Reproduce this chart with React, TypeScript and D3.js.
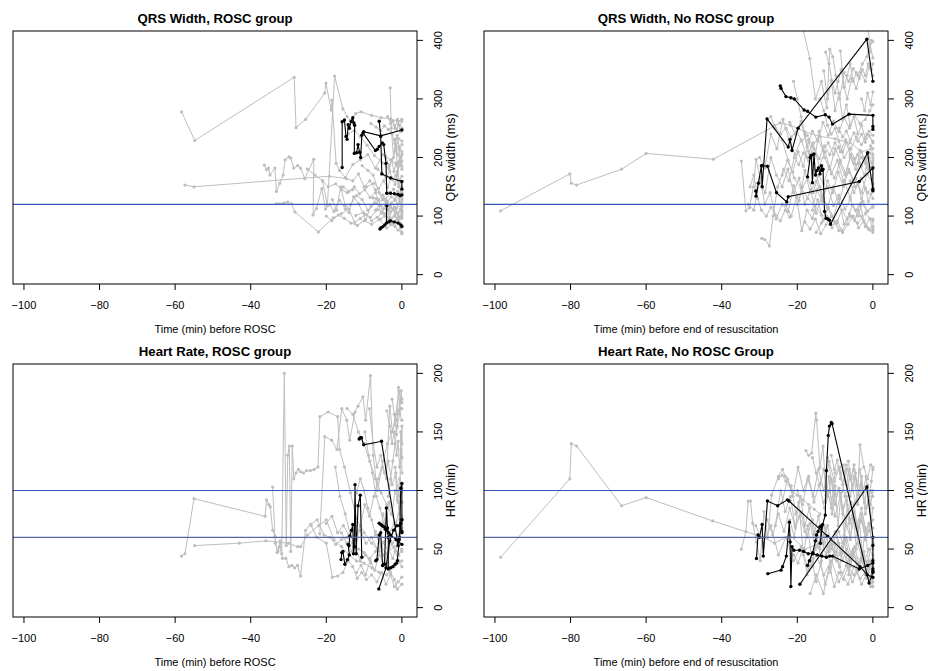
import React from "react";
import * as d3 from "d3";

type Pt = [number, number];

// ---------- axis / text data ----------
const xTicks = [-100, -80, -60, -40, -20, 0];
const qrsTicks = [0, 100, 200, 300, 400];
const hrTicks = [0, 50, 100, 150, 200];
const qrsRefLines = [120];
const hrRefLines = [100, 60];
const titles = [
  "QRS Width, ROSC group",
  "QRS Width, No ROSC group",
  "Heart Rate, ROSC group",
  "Heart Rate, No ROSC Group",
];
const xLabels = [
  "Time (min) before ROSC",
  "Time (min) before end of resuscitation",
  "Time (min) before ROSC",
  "Time (min) before end of resuscitation",
];
const yLabels = ["QRS width (ms)", "HR (/min)"];

// ---------- QRS width, ROSC group ----------
const qrsRoscGray: Pt[][] = [
  [[-58.3,278],[-54.8,229],[-28.5,337],[-28,251],[-25.5,265],[-20.4,310],[-20.1,327],[-18.7,281],[-18.5,298],[-17.4,190],[-16.5,178],[-15,166],[-13,188],[-11,196],[-9,205],[-7,182],[-5,205],[-3,196],[-1.5,188],[0,205]],
  [[-57.4,153],[-55,150],[-19.2,168],[-14.7,164],[-13,160],[-11.5,172],[-10,150],[-8.5,160],[-7,145],[-5,130],[-3,115],[-1.5,105],[0,110]],
  [[-36.4,187],[-35.8,179],[-35.3,182],[-34.9,170],[-33.6,182],[-33.2,142],[-32.3,156],[-31.4,170],[-30.9,196],[-29.9,201],[-29.4,199],[-28.6,182],[-27.6,186],[-26.8,182],[-25.7,164],[-23.3,197],[-23.5,102],[-22.6,113],[-21.2,147],[-20.2,112],[-19,120],[-18,108],[-16.5,127],[-15,112],[-13.5,120],[-12,135],[-10.5,128],[-9,110],[-7,122],[-5,128],[-3,118],[-1.5,135],[0,120]],
  [[-33.2,121],[-32.3,121],[-31.2,122],[-30.2,124],[-29.2,121],[-28.3,107],[-22.1,73],[-18.2,97],[-16,104],[-14,112],[-12.5,89],[-11,96],[-9.5,103],[-8,92],[-6.5,98],[-5,106],[-3.5,95],[-2,100],[-1,92],[0,96]],
  [[-21,160],[-19.7,118],[-17.8,339],[-15.6,283],[-14.5,270],[-13.5,262],[-12.2,275],[-10.8,278],[-8,272],[-5.5,268],[-3,266],[-1,262],[0,265]],
  [[-18.4,128],[-17.3,110],[-16.2,150],[-15,118],[-14,106],[-12.8,133],[-11.4,121],[-9.6,94],[-8.2,116],[-6.8,130],[-5.4,105],[-4.2,124],[-3,86],[-1.6,112],[-0.6,98],[0,104]],
  [[-3.1,319],[-2.8,250],[-2.2,200],[-1.6,232],[-1.1,172],[-0.6,192],[0,180]],
  [[-8.2,258],[-6.8,252],[-5.6,246],[-4.6,254],[-3.6,248],[-2.6,240],[-1.8,224],[-1.2,238],[-0.6,214],[0,222]],
  [[-9.4,150],[-7.4,156],[-6.2,147],[-4.8,160],[-3.8,149],[-2.8,166],[-1.8,154],[-1.2,176],[-0.6,160],[0,168]],
  [[-7.6,131],[-6.2,128],[-5,136],[-3.8,125],[-2.8,133],[-1.8,127],[-1.1,142],[-0.5,121],[0,126]],
  [[-12.2,101],[-10.2,106],[-8.3,98],[-6.4,111],[-4.6,104],[-3.4,97],[-2.3,112],[-1.3,94],[-0.4,80],[0,70]],
  [[-4.3,202],[-3.4,186],[-2.7,196],[-2.1,176],[-1.5,191],[-1,184],[-0.5,201],[0,194]],
  [[-14.2,240],[-12.6,246],[-11,236],[-9.2,221],[-7.2,203],[-5.2,191],[-3.4,181],[-1.8,211],[-0.8,232],[0,228]],
  [[-6.4,180],[-5.2,172],[-4.2,165],[-3.2,176],[-2.4,162],[-1.6,170],[-0.9,150],[-0.3,158],[0,148]],
  [[-10.5,186],[-9,178],[-7.6,170],[-6,140],[-4.4,128],[-3.2,140],[-2.2,146],[-1.2,120],[-0.4,132],[0,140]],
  [[-5.6,95],[-4.6,100],[-3.6,112],[-2.6,90],[-1.8,82],[-1,100],[-0.4,88],[0,84]],
  [[-2.6,262],[-2,255],[-1.4,248],[-0.9,256],[-0.4,244],[0,250]],
  [[-15.5,150],[-14,142],[-12.6,150],[-11.2,138],[-9.8,145],[-8.4,132],[-7,140],[-5.6,118],[-4.2,112],[-2.8,122],[-1.4,114],[0,118]],
  [[-20,100],[-18.5,92],[-16.8,102],[-15.2,96],[-13.5,88],[-11.8,84],[-10,92],[-8,86],[-6,94],[-4,80],[-2.5,86],[-1,76],[0,72]],
  [[-3.8,270],[-3,258],[-2.4,262],[-1.8,250],[-1.2,265],[-0.6,255],[0,262]],
  [[-2,230],[-1.6,215],[-1.2,205],[-0.8,218],[-0.4,190],[0,210],[0,185]],
  [[-1.4,170],[-1,160],[-0.6,150],[-0.3,140],[0,130],[0,115],[0,100]],
  [[-7,110],[-6,118],[-5,112],[-4,116],[-3,108],[-2,115],[-1,105],[-0.4,112],[0,108]],
  [[-25,180],[-23,170],[-21,160],[-19.5,150],[-17.5,155],[-16,145],[-14.5,140],[-13,145]],
];
const qrsRoscBlack: Pt[][] = [
  [[-15.8,183],[-15.8,261],[-15.2,264],[-14.8,236],[-14.5,231],[-14.2,256],[-13.9,250],[-13.4,262],[-13.0,268],[-12.7,259],[-12.5,255],[-12.6,207],[-12.0,208],[-11.6,222],[-11.2,209],[-10.9,200],[-10.6,238],[-10.1,244],[-5.6,237],[0,247]],
  [[-10.3,242],[-7,212],[-6.5,214],[-6,219],[-5.2,225],[-4.8,222],[-4.2,190],[-4,139],[-3,139],[-2,138],[-1,137],[-0.5,135],[0,136]],
  [[-6,262],[-5.6,236],[-5.3,172],[-3,165],[0,159],[0,146]],
  [[-4,118],[-4.1,88],[-5.8,78],[-5.5,80],[-5,82],[-4.5,85],[-3.5,90],[-3,92],[-2,90],[-1,88],[-0.3,85],[0,82]],
];

// ---------- QRS width, No ROSC group ----------
const qrsNoGray: Pt[][] = [
  [[-98.5,109],[-80.2,172],[-79.8,156],[-78.4,153],[-66.5,180],[-60,207],[-42.2,197],[-24.6,259],[-21.8,255],[-18,244],[-14,236],[-10,232],[-6,225],[-3,210],[0,215]],
  [[-34.8,194],[-33.6,109],[-32.7,114],[-31.6,150],[-30.9,197],[-29.8,165],[-28.6,120],[-27.2,140],[-25.6,95],[-24,120],[-22.4,108],[-21,152],[-19.5,126],[-18,178],[-16.6,140],[-15,160],[-13.4,132],[-12,150],[-10.4,118],[-9,136],[-7.4,112],[-6,128],[-4.6,110],[-3,124],[-1.6,108],[0,118]],
  [[-29.4,62],[-28.6,60],[-27.4,49],[-26.4,100],[-25.2,150],[-23.6,180],[-22.2,160],[-20.8,200],[-19.6,188],[-18.4,208],[-17,194],[-15.6,215],[-14.2,198],[-12.8,220],[-11.4,205],[-10,225],[-8.6,210],[-7.2,230],[-5.8,215],[-4.4,235],[-3,222],[-1.6,240],[0,228]],
  [[-19.2,440],[-16.7,369],[-15.2,300],[-13.6,330],[-12.2,285],[-11.4,385],[-10.6,372],[-9.8,340],[-8.8,300],[-7.6,345],[-6.4,330],[-5.2,352],[-4,340],[-2.8,360],[-1.6,372],[-0.8,395],[0,370]],
  [[-22,260],[-20.6,240],[-19,262],[-17.4,218],[-16,245],[-14.6,228],[-13.2,260],[-11.8,238],[-10.4,262],[-9,244],[-7.6,268],[-6.2,250],[-4.8,272],[-3.4,258],[-2,265],[-0.8,280],[0,290]],
  [[-23,118],[-21.6,100],[-20.2,132],[-18.8,75],[-17.4,110],[-16,96],[-14.6,128],[-13.2,92],[-11.8,115],[-10.4,98],[-9,130],[-7.6,86],[-6.2,104],[-4.8,92],[-3.4,120],[-2,82],[-0.8,96],[0,76]],
  [[-24,170],[-22.6,195],[-21.2,175],[-19.8,210],[-18.4,185],[-17,230],[-15.6,190],[-14.2,245],[-12.8,200],[-11.4,180],[-10,215],[-8.6,195],[-7.2,172],[-5.8,205],[-4.4,188],[-3,200],[-1.6,182],[0,195]],
  [[-16,110],[-14.8,145],[-13.4,125],[-12,160],[-10.6,140],[-9.2,175],[-7.8,150],[-6.4,180],[-5,160],[-3.6,190],[-2.2,170],[-1,200],[0,185]],
  [[-8.6,382],[-7.6,320],[-6.8,300],[-5.6,335],[-4.4,318],[-3.2,345],[-2,330],[-1,355],[0,340]],
  [[-26,255],[-24,230],[-22.4,195],[-20.8,165],[-19,148],[-17.2,130],[-15.4,118],[-13.6,102],[-11.8,96],[-10,88],[-8.2,75],[-6,100],[-4,88],[-2,104],[0,92]],
  [[-20,120],[-18.6,150],[-17.2,165],[-15.8,140],[-14.4,170],[-13,155],[-11.6,185],[-10.2,165],[-8.8,190],[-7.4,170],[-6,200],[-4.6,180],[-3.2,210],[-1.8,190],[-0.6,220],[0,205]],
  [[-13,348],[-12,300],[-11,332],[-10,280],[-9,310],[-8,265],[-7,290],[-6,255],[-5,270],[-4,240],[-3,255],[-2,232],[-1,245],[0,238]],
  [[-30,200],[-28.6,182],[-27,240],[-25.4,215],[-23.8,265],[-22.2,230],[-20.6,205],[-19,230],[-17.4,200],[-15.8,225],[-14.2,185],[-12.6,210],[-11,172],[-9.4,195],[-7.8,160],[-6.2,175],[-4.6,150],[-3,165],[-1.4,140],[0,150]],
  [[-6,160],[-5,140],[-4,155],[-3,130],[-2,148],[-1.2,125],[-0.5,138],[0,130]],
  [[-3,300],[-2.2,280],[-1.4,310],[-0.6,290],[0,312]],
  [[-15,72],[-13.6,88],[-12.2,100],[-10.8,80],[-9.4,92],[-8,72],[-6.6,86],[-5.2,100],[-3.8,80],[-2.4,92],[-1.2,78],[0,82]],
  [[-33,120],[-31.5,110],[-30,160],[-28.5,140],[-27,200],[-25.5,170],[-24,150],[-22.5,180],[-21,140],[-19.5,165],[-18,120],[-16.5,145],[-15,105],[-13.5,135],[-12,112],[-10.5,150],[-9,122],[-7.5,158],[-6,132],[-4.5,165],[-3,140],[-1.5,172],[0,155]],
  [[-27,270],[-25.8,250],[-24.4,240],[-23,250],[-21.6,235],[-20.2,245],[-18.8,228],[-17.4,238],[-16,220],[-14.6,232],[-13.2,212],[-11.8,225],[-10.4,205],[-9,218],[-7.6,200],[-6.2,215],[-4.8,198],[-3.4,212],[-2,195],[-0.8,208],[0,200]],
  [[-21,330],[-20,300],[-19,270],[-18,240],[-17,210],[-16,190],[-15,170],[-14,150],[-13,130],[-12,115],[-11,100],[-10,88],[-9,75]],
  [[-12.5,380],[-11.6,360],[-10.8,330],[-10,310],[-9.2,330],[-8.4,350],[-7.6,320],[-6.8,340],[-6,360],[-5.2,330],[-4.4,345],[-3.6,335],[-2.8,350],[-2,340],[-1.2,360],[-0.4,350],[0,360]],
  [[-1.2,420],[-0.8,380],[-0.4,400],[0,398]],
  [[-9,250],[-8,235],[-7,245],[-6,230],[-5,242],[-4,228],[-3,240],[-2,226],[-1,238],[0,225]],
  [[-18,90],[-16.6,78],[-15.2,95],[-13.8,70],[-12.4,85],[-11,100],[-9.6,88],[-8.2,110],[-6.8,95],[-5.4,118],[-4,100],[-2.6,125],[-1.4,108],[0,115]],
  [[-4,110],[-3.2,100],[-2.4,90],[-1.6,82],[-0.8,76],[0,72],[0,80],[0,95]],
  [[-14,300],[-13,280],[-12,255],[-11,240],[-10,250],[-9,228],[-8,210],[-7,225],[-6,205],[-5,190],[-4,205],[-3,185],[-2,200],[-1,178],[0,190]],
  [[-32.5,150],[-31.5,170],[-30.5,130],[-29.5,110],[-28.2,100],[-27,115],[-25.8,102],[-24.5,92],[-23.2,110],[-22,98]],
];
const qrsNoBlack: Pt[][] = [
  [[-24.5,322],[-24.3,318],[-23,304],[-21.7,302],[-20.8,300],[-18.2,281],[-17.3,279],[-15.1,269],[-12.6,273],[-11.6,269],[-10.7,257],[-6.3,274],[0,272],[0,253],[0,248]],
  [[-31,143],[-30.9,134],[-30.3,156],[-29.5,186],[-29.3,150],[-28,266],[-22.4,218],[-21.9,231],[-21.4,212],[-19.8,250],[-1.6,402],[0,330]],
  [[-29.2,186],[-27.9,185],[-25.5,140],[-22.8,124],[-22.4,133],[-3.6,159],[0,182],[0,143]],
  [[-17.3,167],[-16.6,200],[-16.3,204],[-16,157],[-15.6,206],[-15.2,170],[-14.8,178],[-14.4,182],[-14,172],[-13.6,186],[-13.4,178],[-13.2,180],[-12.8,108],[-12.4,96],[-11.9,95],[-11.5,93],[-11.2,86],[-1.4,208],[0,146]],
];

// ---------- Heart rate, ROSC group ----------
const hrRoscGray: Pt[][] = [
  [[-58.3,44],[-57.4,46],[-55,93],[-36.2,78],[-35.8,92],[-35.2,88],[-34.8,86],[-34.2,66],[-33.6,61],[-33,47],[-32.4,52],[-31.8,46],[-31.1,200],[-30.6,53],[-30.2,130],[-29.8,138],[-29.4,48],[-29,138],[-28.6,110],[-28,115],[-27.4,118],[-26.8,116],[-26,115],[-25.2,117],[-24.2,117],[-23.2,118],[-22.2,120],[-21.7,163],[-19.5,167],[-17,163],[-16.5,135],[-15.2,120],[-13.6,98],[-12,76],[-10,64],[-8,55],[-6,48],[-4,60],[-2,72],[0,78]],
  [[-54.8,53],[-43,55],[-36,57],[-30,55],[-27.6,52],[-26.8,52],[-25,62],[-22,70],[-20,75],[-18,58],[-16,52],[-14,45],[-12,40],[-10,38],[-8,34],[-6,30],[-4,28],[-2,35],[0,40]],
  [[-34.2,103],[-33.5,55],[-32.8,48],[-32.2,57],[-31.6,42],[-30.7,42],[-29.9,35],[-29.1,36],[-28.4,34],[-27.6,36],[-26.8,27],[-25.5,66],[-24.2,71],[-22.4,75],[-20.6,62],[-19,60],[-17.5,54],[-16,58],[-14.5,60],[-13,55],[-11.5,50],[-10,47],[-8.5,42],[-7,48],[-5.5,52],[-4,46],[-2.5,55],[-1,62],[0,68]],
  [[-21.7,63],[-20.4,146],[-18.6,143],[-17.2,135],[-15.9,170],[-14.6,160],[-13.8,143],[-12.4,167],[-11.6,172],[-10.3,180],[-9.6,160],[-8.3,198],[-7.6,130],[-6.5,100],[-5.2,120],[-4.1,110],[-3.2,172],[-2.5,150],[-1.6,165],[-0.8,185],[0,175]],
  [[-24,70],[-22.5,60],[-20,55],[-18.4,26],[-17,27],[-15.6,30],[-14.2,40],[-13,35],[-11.8,25],[-10.6,30],[-9.4,24],[-8,28],[-6.6,22],[-5.4,30],[-4.2,20],[-3,28],[-2,18],[-1,22],[0,26]],
  [[-16,64],[-14.6,55],[-13.2,48],[-12.2,60],[-11,70],[-9.8,88],[-8.6,78],[-7.4,95],[-6.2,110],[-5,125],[-3.8,140],[-2.6,150],[-1.6,160],[-0.8,168],[0,160]],
  [[-9.8,150],[-8.8,130],[-7.8,115],[-6.8,95],[-5.8,85],[-4.8,72],[-3.8,64],[-2.8,55],[-1.8,48],[-0.8,40],[0,35]],
  [[-4,168],[-3.2,155],[-2.6,140],[-2,150],[-1.4,130],[-1,142],[-0.6,120],[-0.2,135],[0,128]],
  [[-2.6,178],[-2,165],[-1.4,148],[-0.9,188],[-0.5,170],[-0.2,185],[0,178]],
  [[-7,65],[-6,55],[-5,80],[-4.2,70],[-3.4,90],[-2.6,80],[-1.8,100],[-1.2,92],[-0.6,110],[0,102]],
  [[-12,98],[-11,110],[-10,100],[-9,85],[-8,75],[-7,62],[-6,58],[-5,45],[-4,38],[-3,30],[-2,24],[-1.2,16],[0,20]],
  [[-14.5,170],[-13,165],[-11.5,150],[-10,140],[-8.5,125],[-7,110],[-5.5,98],[-4,88],[-2.8,80],[-1.6,72],[-0.6,85],[0,90]],
  [[-20,72],[-18.5,78],[-17,64],[-15.5,70],[-14,62],[-12.5,58],[-11,66],[-9.5,55],[-8,60],[-6.5,50],[-5,56],[-3.5,48],[-2,52],[-0.8,45],[0,50]],
  [[-12,30],[-10.8,36],[-9.6,28],[-8.4,40],[-7.2,32],[-6,45],[-4.8,38],[-3.6,50],[-2.4,42],[-1.2,55],[0,48]],
  [[-1.8,120],[-1.4,100],[-1,90],[-0.6,80],[-0.3,150],[0,140],[0,155],[0,115]],
  [[-3.6,95],[-3,110],[-2.4,125],[-1.8,140],[-1.2,155],[-0.6,165],[0,170]],
  [[-8.6,170],[-7.6,140],[-6.6,120],[-5.6,130],[-4.6,115],[-3.6,125],[-2.6,105],[-1.6,115],[-0.8,95],[0,100]],
  [[-17.6,120],[-16.4,95],[-15,80],[-13.6,62],[-12.4,52],[-11,40],[-9.6,45],[-8.2,38]],
];
const hrRoscBlack: Pt[][] = [
  [[-16.1,41],[-15.9,47],[-15.6,48],[-15.1,37],[-14.4,41],[-13.9,45],[-14.2,54],[-14.0,53],[-13.8,61],[-13.3,66],[-13.0,71],[-12.8,46],[-12.6,52],[-12.4,105],[-12.1,46],[-11.6,87],[-11.0,96],[-10.6,43]],
  [[-11.3,144],[-11.0,145],[-10.7,145],[-10.1,139],[-5.4,142],[-1.0,53],[-0.6,60],[-0.3,102],[0,106],[0,75],[0,65]],
  [[-6.9,40],[-6.6,41],[-6.0,62],[-5.6,64],[-5.1,36],[-4.6,37],[-4.1,85],[-3.8,68],[-3.6,60],[-3.6,33],[-3.0,34],[-2.4,35],[-1.8,37],[-1.4,38],[-1.2,40],[-0.7,58],[-0.3,72],[0,75]],
  [[-6.1,16],[-4.2,34],[-3.2,57],[-2.2,66],[-1.3,70],[-0.6,70],[0,64]],
  [[-6.0,72],[-5.6,71],[-5.2,70],[-4.8,69],[-4.4,67],[-4.0,66],[-3.5,64],[-3.0,62],[-1.5,58],[0,54]],
];

// ---------- Heart rate, No ROSC group ----------
const hrNoGray: Pt[][] = [
  [[-98.5,43],[-80.2,110],[-79.8,140],[-78.4,138],[-66.5,87],[-60,94],[-42.4,74],[-29,60],[-26,55],[-22,62],[-18,50],[-14,55],[-10,48],[-6,45],[-2,40],[0,38]],
  [[-34.8,50],[-33.6,65],[-33,91],[-32.4,91],[-31.8,72],[-30.8,56],[-29.8,40],[-28.8,82],[-27.8,60],[-26.8,96],[-25,112],[-23.9,118],[-23.2,112],[-21.6,104],[-20.4,80],[-19.2,95],[-18,70],[-16.8,85],[-15.6,62],[-14.4,78],[-13.2,55],[-12,70],[-10.8,50],[-9.6,65],[-8.4,45],[-7.2,58],[-6,40],[-4.8,52],[-3.6,35],[-2.4,48],[-1.2,30],[0,42]],
  [[-17.7,134],[-17,130],[-16.2,132],[-15.1,166],[-14.9,160],[-14,120],[-13.2,138],[-12.4,96],[-11.6,112],[-10.8,80],[-10,104],[-9.2,70],[-8.4,98],[-7.6,62],[-6.8,88],[-6,58],[-5.2,82],[-4.4,50],[-3.6,75],[-2.8,45],[-2,68],[-1.2,40],[0,60]],
  [[-22,75],[-20.8,60],[-19.6,90],[-18.4,45],[-17.2,70],[-16,35],[-14.8,62],[-13.6,40],[-12.4,68],[-11.2,30],[-10,55],[-8.8,35],[-7.6,60],[-6.4,28],[-5.2,50],[-4,32],[-2.8,48],[-1.6,25],[-0.6,40],[0,18]],
  [[-16.6,12],[-15,28],[-13.1,12],[-11.6,35],[-10,45],[-8.4,30],[-6.6,20],[-5,35],[-3.4,25],[-2,30],[0,22]],
  [[-13,90],[-12,100],[-11,85],[-10,115],[-9,120],[-8,105],[-7,122],[-6,110],[-5,118],[-4,100],[-3.4,139],[-2.4,120],[-1.4,110],[-0.6,122],[0,120]],
  [[-20,100],[-18.6,88],[-17.2,110],[-15.8,95],[-14.4,118],[-13,100],[-11.6,125],[-10.2,108],[-8.8,120],[-7.4,95],[-6,112],[-4.6,90],[-3.2,105],[-1.8,85],[-0.6,100],[0,95]],
  [[-25.8,70],[-24.4,100],[-23.2,82],[-21.8,95],[-20.6,70],[-19.4,78],[-18,65],[-16.6,72],[-15.2,50],[-13.8,60],[-12.4,45],[-11,55],[-9.6,40],[-8.2,52],[-6.8,38],[-5.4,48],[-4,38],[-2.6,45],[-1.2,35],[0,30]],
  [[-12,128],[-11,110],[-10,95],[-9,100],[-8,85],[-7,92],[-6,75],[-5,82],[-4,68],[-3,74],[-2,60],[-1,66],[0,55]],
  [[-8,100],[-7,118],[-6,95],[-5,112],[-4,88],[-3,105],[-2,80],[-1,95],[-0.4,75],[0,85]],
  [[-31,70],[-29,55],[-27,70],[-25,45],[-23,60],[-21,40],[-19,52],[-17,32],[-15,45],[-13,28],[-11,40],[-9,22],[-7,36],[-5,28],[-3,40],[-1,26],[0,32]],
  [[-9,65],[-8,55],[-7,70],[-6,60],[-5,75],[-4,62],[-3,80],[-2,65],[-1,72],[0,68]],
  [[-24,90],[-22.6,110],[-21.2,95],[-19.8,120],[-18.4,100],[-17,112],[-15.6,90],[-14.2,105],[-12.8,85],[-11.4,100],[-10,78],[-8.6,95],[-7.2,72],[-5.8,90],[-4.4,68],[-3,85],[-1.6,62],[0,75]],
  [[-16,128],[-15,115],[-14,105],[-13,118],[-12,95],[-11,108],[-10,88],[-9,102],[-8,80],[-7,95],[-6,72],[-5,88],[-4,65],[-3,80],[-2,58],[-1,72],[0,50]],
  [[-6.5,125],[-5.8,110],[-5,122],[-4.2,104],[-3.4,118],[-2.6,98],[-1.8,112],[-1,92],[-0.4,108],[0,118]],
  [[-21,45],[-19.8,38],[-18.6,50],[-17.4,28],[-16.2,42],[-15,22],[-13.8,38],[-12.6,20],[-11.4,34],[-10.2,18],[-9,30],[-7.8,24],[-6.6,35],[-5.4,22],[-4.2,30],[-3,20],[-1.8,28],[-0.6,18],[0,25]],
  [[-28,75],[-26.5,62],[-25,80],[-23.5,65],[-22,85],[-20.5,68],[-19,82],[-17.5,60],[-16,75],[-14.5,52],[-13,70],[-11.5,48],[-10,65],[-8.5,45],[-7,60],[-5.5,42],[-4,55],[-2.5,38],[-1,50],[0,45]],
  [[-11,130],[-10.2,118],[-9.4,126],[-8.6,110],[-7.8,122],[-7,105],[-6.2,118],[-5.4,100],[-4.6,115],[-3.8,96],[-3,112],[-2.2,90],[-1.4,105],[-0.6,88],[0,100]],
  [[-14,50],[-13,62],[-12,48],[-11,58],[-10,42],[-9,55],[-8,40],[-7,50],[-6,35],[-5,46],[-4,32],[-3,42],[-2,28],[-1,38],[0,35]],
  [[-25,110],[-24,113],[-23,108],[-21.5,100],[-20,96],[-18.5,92],[-17,88],[-15.5,84],[-14,80]],
];
const hrNoBlack: Pt[][] = [
  [[-30.8,42],[-30.4,62],[-30.0,60],[-29.3,71],[-29.0,44],[-27.9,91],[-25.2,87],[-22.6,92],[-22.2,91],[-12.0,61],[-3.4,35],[-1.5,28],[0,26]],
  [[-27.8,29],[-24.3,32],[-23.9,35],[-22.9,44],[-22.1,73],[-21.9,56],[-21.7,18],[-21.4,52],[-20.9,49],[-19.4,49],[-18.3,48],[-17.1,46],[-15.9,46],[-14.7,45],[-13.5,44],[-12.3,43],[-11.4,44],[-10.7,44],[-3.6,33],[-1.4,36],[0,38]],
  [[-19.3,20],[-1.6,103],[0,60],[0,53],[0,40],[0,31]],
  [[-17.3,36],[-16.8,40],[-15.9,47],[-15.2,57],[-14.9,62],[-14.5,65],[-14.0,69],[-13.6,70],[-13.9,55],[-13.3,71],[-12.6,79],[-12.3,117],[-11.8,147],[-11.5,155],[-11.0,158],[-10.8,157],[-1.0,21],[0,30],[0,33]],
];

const FONT = "'Liberation Sans', Arial, Helvetica, sans-serif";
const GRAY = "#bebebe";
const xDomain: [number, number] = [-102.9, 4];

interface PanelProps {
  id: string;
  left: number;
  top: number;
  width: number;
  height: number;
  yDomain: [number, number];
  yTicks: number[];
  refLines: number[];
  refColors: string[];
  gray: Pt[][];
  black: Pt[][];
  title: string;
  xLabel: string;
  yLabel: string;
}

function Panel(p: PanelProps) {
  const x = d3.scaleLinear().domain(xDomain).range([p.left, p.left + p.width]);
  const y = d3.scaleLinear().domain(p.yDomain).range([p.top + p.height, p.top]);
  const line = d3.line<Pt>().x((d) => x(d[0])).y((d) => y(d[1]));
  const bottom = p.top + p.height;
  const right = p.left + p.width;
  return (
    <g>
      <defs>
        <clipPath id={p.id}>
          <rect x={p.left} y={p.top} width={p.width} height={p.height} />
        </clipPath>
      </defs>
      <g clipPath={`url(#${p.id})`}>
        {p.gray.map((s, i) => (
          <path key={"gl" + i} d={line(s) || ""} fill="none" stroke={GRAY} strokeWidth={1} />
        ))}
        {p.gray.map((s, i) =>
          s.map((d, j) => <circle key={`gp${i}-${j}`} cx={x(d[0])} cy={y(d[1])} r={1.6} fill={GRAY} />)
        )}
        {p.black.map((s, i) => (
          <path key={"bl" + i} d={line(s) || ""} fill="none" stroke="#000" strokeWidth={1.1} />
        ))}
        {p.black.map((s, i) =>
          s.map((d, j) => <circle key={`bp${i}-${j}`} cx={x(d[0])} cy={y(d[1])} r={1.7} fill="#000" />)
        )}
        {p.refLines.map((v, i) => (
          <line key={"rl" + i} x1={p.left} x2={right} y1={y(v)} y2={y(v)} stroke={p.refColors[i]} strokeWidth={1.1} />
        ))}
      </g>
      <rect x={p.left} y={p.top} width={p.width} height={p.height} fill="none" stroke="#000" strokeWidth={1} />
      {xTicks.map((t) => (
        <g key={"xt" + t}>
          <line x1={x(t)} x2={x(t)} y1={bottom} y2={bottom + 6} stroke="#000" />
          <text x={x(t)} y={bottom + 21} textAnchor="middle" dominantBaseline="central" fontSize={11} fontFamily={FONT}>
            {t < 0 ? "\u2212" + Math.abs(t) : String(t)}
          </text>
        </g>
      ))}
      <text x={(p.left + right) / 2} y={bottom + 45} textAnchor="middle" dominantBaseline="central" fontSize={11} fontFamily={FONT}>
        {p.xLabel}
      </text>
      {p.yTicks.map((t) => (
        <g key={"yt" + t}>
          <line x1={right} x2={right + 6} y1={y(t)} y2={y(t)} stroke="#000" />
          <text
            transform={`translate(${right + 20.5},${y(t)}) rotate(-90)`}
            textAnchor="middle"
            dominantBaseline="central"
            fontSize={11}
            fontFamily={FONT}
          >
            {t}
          </text>
        </g>
      ))}
      <text
        transform={`translate(${right + 33.5},${(p.top + bottom) / 2}) rotate(-90)`}
        textAnchor="middle"
        dominantBaseline="central"
        fontSize={12.5}
        fontFamily={FONT}
      >
        {p.yLabel}
      </text>
      <text
        x={(p.left + right) / 2}
        y={p.top - 12.5}
        textAnchor="middle"
        dominantBaseline="central"
        fontSize={13.2}
        fontWeight="bold"
        fontFamily={FONT}
      >
        {p.title}
      </text>
    </g>
  );
}

export default function App() {
  const cols = [13, 484];
  const rows = [31, 364];
  const W = 404;
  const H = 253;
  const qrsDomain: [number, number] = [-16, 416];
  const hrDomain: [number, number] = [-8, 208];
  const blue = "#3558c0";
  const blue60 = "#5668a8";
  return (
    <svg width={928} height={671} style={{ position: "absolute", left: 0, top: 0, background: "#fff" }}>
      <rect x={0} y={0} width={928} height={671} fill="#fff" />
      <Panel id="c1" left={cols[0]} top={rows[0]} width={W} height={H} yDomain={qrsDomain} yTicks={qrsTicks}
        refLines={qrsRefLines} refColors={[blue]} gray={qrsRoscGray} black={qrsRoscBlack}
        title={titles[0]} xLabel={xLabels[0]} yLabel={yLabels[0]} />
      <Panel id="c2" left={cols[1]} top={rows[0]} width={W} height={H} yDomain={qrsDomain} yTicks={qrsTicks}
        refLines={qrsRefLines} refColors={[blue]} gray={qrsNoGray} black={qrsNoBlack}
        title={titles[1]} xLabel={xLabels[1]} yLabel={yLabels[0]} />
      <Panel id="c3" left={cols[0]} top={rows[1]} width={W} height={H} yDomain={hrDomain} yTicks={hrTicks}
        refLines={hrRefLines} refColors={[blue, blue60]} gray={hrRoscGray} black={hrRoscBlack}
        title={titles[2]} xLabel={xLabels[2]} yLabel={yLabels[1]} />
      <Panel id="c4" left={cols[1]} top={rows[1]} width={W} height={H} yDomain={hrDomain} yTicks={hrTicks}
        refLines={hrRefLines} refColors={[blue, blue60]} gray={hrNoGray} black={hrNoBlack}
        title={titles[3]} xLabel={xLabels[3]} yLabel={yLabels[1]} />
    </svg>
  );
}
